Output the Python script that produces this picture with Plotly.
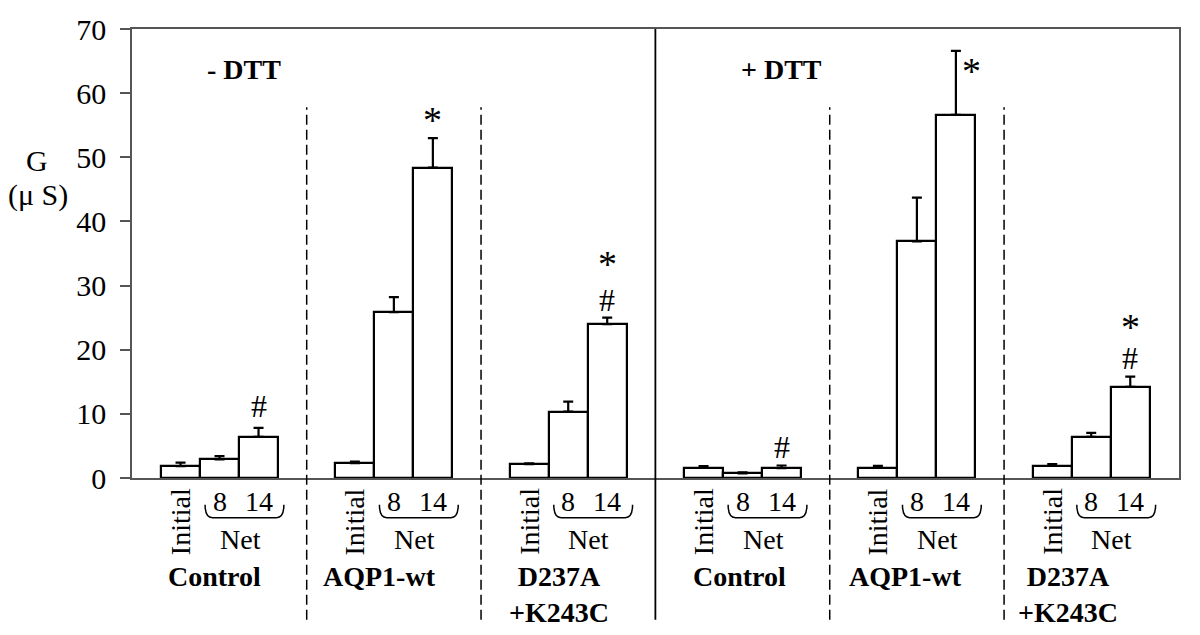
import plotly.graph_objects as go

# ---- data ----
groups = ["Control", "AQP1-wt", "D237A<br>+K243C", "Control", "AQP1-wt", "D237A<br>+K243C"]
bar_labels = ["Initial", "8", "14"]
initial_vals = [1.85, 2.3, 2.15, 1.6, 1.6, 1.9]
net8_vals = [2.9, 25.85, 10.35, 0.72, 36.9, 6.4]
net14_vals = [6.4, 48.4, 24.0, 1.55, 56.6, 14.2]
initial_err = [0.55, 0.25, 0.15, 0.25, 0.3, 0.25]
net8_err = [0.5, 2.35, 1.55, 0.16, 6.8, 0.65]
net14_err = [1.4, 4.6, 1.0, 0.4, 10.0, 1.6]
# significance marks on the 14-day bars
marks_group = [0, 1, 2, 2, 3, 4, 5, 5]
marks_text = ["#", "*", "#", "*", "#", "*", "#", "*"]
marks_y = [11.3, 56.1, 27.7, 33.7, 4.9, 63.8, 18.75, 23.9]
panel_titles = ["- DTT", "+ DTT"]
y_ticks = [0, 10, 20, 30, 40, 50, 60, 70]

# ---- layout constants ----
GAP = 4.47
XMIN, XMAX = -1.244, 25.6
FONT = '"Liberation Serif", "Times New Roman", serif'
L, R, T, B = 132, 21, 25, 157
W, H = 1200, 635
PW, PH = W - L - R, H - T - B
label_offsets = [0.88, 0.62, 0.77, 0.91, 0.70, 0.40]


def xp(xd):
    return (xd - XMIN) / (XMAX - XMIN)


def yp(ypx):
    return (H - B - ypx) / PH


xs, ys, es = [], [], []
for g in range(6):
    for k, (v, e) in enumerate([(initial_vals[g], initial_err[g]),
                                (net8_vals[g], net8_err[g]),
                                (net14_vals[g], net14_err[g])]):
        xs.append(g * GAP + k)
        ys.append(v)
        es.append(e)

fig = go.Figure()
fig.add_trace(go.Bar(
    x=xs, y=ys, width=1.0,
    marker=dict(color="white", line=dict(color="black", width=2.2)),
    error_y=dict(type="data", array=es, arrayminus=[0] * len(es), symmetric=False,
                 color="black", thickness=2.2, width=5),
    showlegend=False, hoverinfo="skip",
))


def txt(x, y, text, size, xref="x", yref="paper", **kw):
    d = dict(x=x, y=y, xref=xref, yref=yref, text=text, showarrow=False,
             xanchor="center", yanchor="middle",
             font=dict(family=FONT, size=size, color="black"))
    d.update(kw)
    return d


ann = []
shapes = []
for g in range(6):
    base = g * GAP
    ann.append(txt(base, yp(522), bar_labels[0], 28, textangle=-90))
    ann.append(txt(base + 1, yp(502), bar_labels[1], 28))
    ann.append(txt(base + 2, yp(502), bar_labels[2], 28))
    ann.append(txt(base + 1.53, yp(540), "Net", 28))
    if "<br>" in groups[g]:
        ann.append(txt(base + label_offsets[g], yp(560), "<b>%s</b>" % groups[g], 28,
                       yanchor="top", align="center"))
    else:
        ann.append(txt(base + label_offsets[g], yp(577), "<b>%s</b>" % groups[g], 28))
    # brace under 8 / 14
    x0 = xp(base + 0.63)
    x1 = xp(base + 2.65)
    yt = yp(505)
    yb = yp(518)
    dx = 0.007
    path = (f"M {x0},{yt} Q {x0},{yb} {x0 + dx},{yb} L {x1 - dx},{yb} "
            f"Q {x1},{yb} {x1},{yt}")
    shapes.append(dict(type="path", path=path, xref="paper", yref="paper",
                       line=dict(color="black", width=1.5)))
    # separators
    if g < 5:
        sx = xp(base + 3.235)
        if g == 2:
            shapes.append(dict(type="line", xref="paper", yref="paper", x0=sx, x1=sx,
                               y0=yp(621), y1=1, line=dict(color="black", width=1.8)))
        else:
            shapes.append(dict(type="line", xref="paper", yref="paper", x0=sx, x1=sx,
                               y0=yp(621), y1=yp(104),
                               line=dict(color="black", width=1.5, dash="10px,5px")))

for gi, t, yy in zip(marks_group, marks_text, marks_y):
    ann.append(txt(gi * GAP + 2, yy, t, (38 if t == "*" else 32), yref="y",
                   xshift=(16 if gi == 4 else 0), yshift=(-2 if t == "*" else 0)))

ann.append(txt(1.63, yp(66), "<b>%s</b>" % panel_titles[0], 28))
ann.append(txt(3 * GAP + 2.0, yp(66), "<b>%s</b>" % panel_titles[1], 28))
ann.append(txt((37 - L) / PW, yp(158), "G", 30, xref="paper"))
ann.append(txt((38 - L) / PW, yp(192), "(\u03bc S)", 30, xref="paper"))

fig.update_layout(
    width=W, height=H,
    margin=dict(l=L, r=R, t=T, b=B),
    paper_bgcolor="white", plot_bgcolor="white",
    annotations=ann, shapes=shapes,
    xaxis=dict(range=[XMIN, XMAX], showticklabels=False, ticks="", showgrid=False,
               zeroline=False, showline=True, linecolor="#555555", linewidth=2, mirror=True),
    yaxis=dict(range=[0, 70], tickvals=y_ticks, ticks="outside", ticklen=10, tickwidth=1.5,
               tickcolor="#555555", showgrid=False, zeroline=False, showline=True,
               linecolor="#555555", linewidth=1.5, mirror=True, ticklabelstandoff=8,
               tickfont=dict(family=FONT, size=30, color="black")),
    bargap=0,
)

fig.write_html("out.html", config={"displayModeBar": False},
               post_script="document.body.style.margin='0';document.body.style.overflow='hidden';")
